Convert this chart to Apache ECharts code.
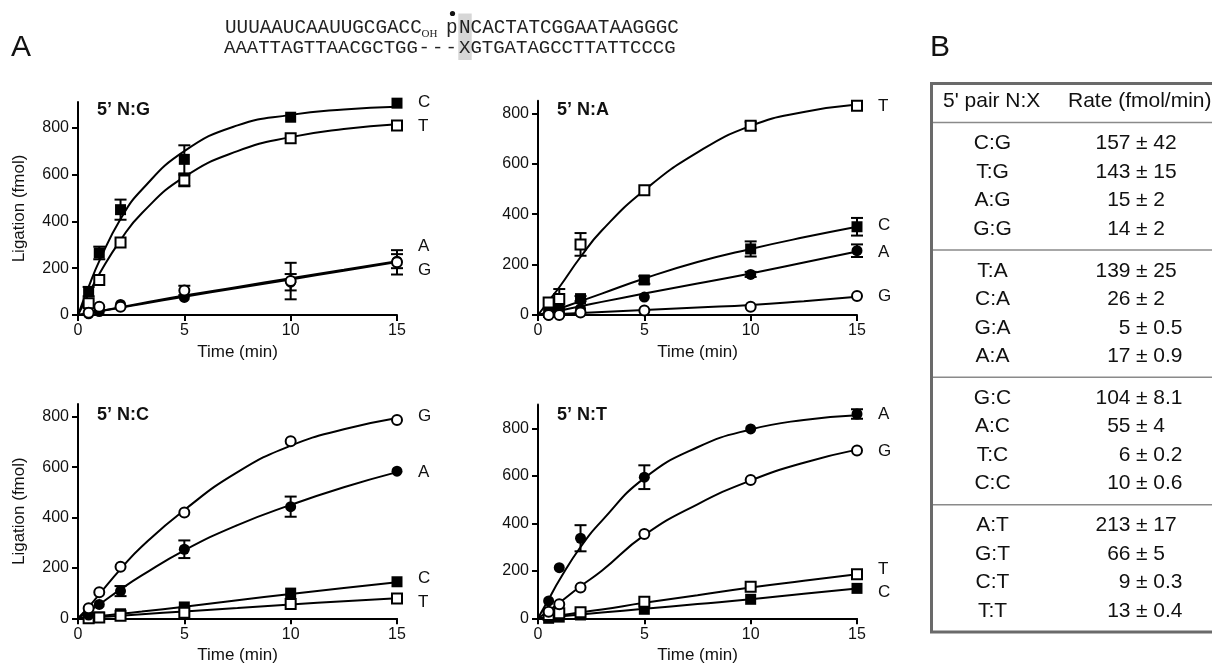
<!DOCTYPE html>
<html><head><meta charset="utf-8">
<script src="https://cdn.jsdelivr.net/npm/echarts@6/dist/echarts.min.js"></script>
<style>html,body{margin:0;padding:0;background:#fff}#c{width:1212px;height:667px}</style>
</head><body><div id="c"></div>
<script>
// ---------- DATA ----------
const times = [0.5, 1, 2, 5, 10, 15];
const fitTimes = [0, 0.5, 1, 2, 3, 5, 7.5, 10, 12.5, 15];
const xTicks = [0, 5, 10, 15];
const yTicks = [0, 200, 400, 600, 800];
const panelTitles = ['5\u2019 N:G', '5\u2019 N:A', '5\u2019 N:C', '5\u2019 N:T'];

// Panel 5' N:G
const ngC = [100, 265, 450, 665, 845, 905];  const ngCerr = [20, 27, 43, 60, 0, 0];
const ngT = [50, 150, 310, 575, 755, 810];   const ngTerr = [0, 0, 0, 25, 0, 0];
const ngA = [5, 15, 45, 75, 140, 230];       const ngAerr = [0, 0, 0, 0, 35, 30];
const ngG = [10, 35, 35, 105, 145, 225];     const ngGerr = [0, 0, 0, 20, 78, 52];
const ngCfit = [0, 120, 230, 410, 535, 700, 810, 855, 878, 890];
const ngTfit = [0, 90, 175, 320, 435, 590, 700, 760, 795, 815];
const ngAfit = [0, 8, 16, 31, 47, 78, 115, 152, 189, 226];
const ngGfit = [0, 8, 16, 33, 50, 83, 120, 157, 193, 230];

// Panel 5' N:A
const naT = [50, 63, 280, 495, 751, 830];    const naTerr = [0, 40, 45, 0, 15, 0];
const naC = [10, 25, 65, 139, 262, 350];     const naCerr = [0, 0, 10, 15, 30, 35];
const naA = [0, 10, 25, 71, 161, 255];       const naAerr = [0, 0, 0, 0, 10, 25];
const naG = [0, 0, 10, 18, 33, 75];          const naGerr = [0, 0, 0, 0, 0, 0];
const naTfit = [0, 55, 110, 230, 335, 495, 645, 750, 805, 835];
const naCfit = [0, 12, 25, 55, 85, 145, 210, 262, 308, 350];
const naAfit = [0, 8, 17, 35, 52, 85, 125, 165, 208, 252];
const naGfit = [0, 2, 4, 8, 12, 20, 30, 40, 55, 72];

// Panel 5' N:C
const ncG = [40, 103, 205, 420, 703, 787];   const ncGerr = [0, 0, 0, 0, 0, 0];
const ncA = [13, 55, 108, 274, 443, 584];    const ncAerr = [0, 0, 20, 35, 40, 0];
const ncC = [0, 5, 18, 45, 100, 145];        const ncCerr = [0, 0, 0, 0, 0, 0];
const ncT = [0, 3, 10, 22, 57, 79];          const ncTerr = [0, 0, 0, 0, 0, 0];
const ncGfit = [0, 45, 95, 195, 285, 430, 580, 685, 750, 795];
const ncAfit = [0, 28, 55, 115, 170, 270, 370, 450, 520, 580];
const ncCfit = [0, 4, 9, 18, 27, 46, 72, 96, 120, 143];
const ncTfit = [0, 3, 5, 10, 16, 27, 41, 55, 68, 80];

// Panel 5' N:T
const ntA = [73, 213, 337, 594, 797, 860];   const ntAerr = [0, 0, 55, 50, 0, 20];
const ntG = [28, 59, 130, 355, 582, 706];    const ntGerr = [0, 0, 0, 0, 0, 0];
const ntT = [14, 21, 25, 70, 133, 185];      const ntTerr = [0, 0, 0, 0, 0, 0];
const ntC = [0, 5, 14, 38, 80, 126];         const ntCerr = [0, 0, 0, 0, 0, 0];
const ntAfit = [0, 80, 160, 300, 410, 590, 720, 795, 835, 855];
const ntGfit = [0, 32, 65, 135, 200, 350, 480, 580, 655, 710];
const ntTfit = [0, 6, 12, 25, 37, 65, 97, 130, 158, 185];
const ntCfit = [0, 4, 8, 16, 24, 40, 60, 80, 103, 125];

// Table B
const pairs    = ['C:G','T:G','A:G','G:G','T:A','C:A','G:A','A:A','G:C','A:C','T:C','C:C','A:T','G:T','C:T','T:T'];
const rateVals = ['157','143','15','14','139','26','5','17','104','55','6','10','213','66','9','13'];
const rateErrs = ['42','15','2','2','25','2','0.5','0.9','8.1','4','0.2','0.6','17','5','0.3','0.4'];

// Sequence
const seqTop5 = 'UUUAAUCAAUUGCGACC';
const seqTop3 = 'NCACTATCGGAATAAGGGC';
const seqBot5 = 'AAATTAGTTAACGCTGG';
const seqBot3 = 'XGTGATAGCCTTATTCCCG';

// ---------- BUILD ----------
const FONT = 'Liberation Sans, Arial, sans-serif';
const panels = [
  {series: {C:[ngC,ngCerr,ngCfit], T:[ngT,ngTerr,ngTfit], A:[ngA,ngAerr,ngAfit], G:[ngG,ngGerr,ngGfit]}, max: 910},
  {series: {C:[naC,naCerr,naCfit], T:[naT,naTerr,naTfit], A:[naA,naAerr,naAfit], G:[naG,naGerr,naGfit]}, max: 850},
  {series: {C:[ncC,ncCerr,ncCfit], T:[ncT,ncTerr,ncTfit], A:[ncA,ncAerr,ncAfit], G:[ncG,ncGerr,ncGfit]}, max: 850},
  {series: {C:[ntC,ntCerr,ntCfit], T:[ntT,ntTerr,ntTfit], A:[ntA,ntAerr,ntAfit], G:[ntG,ntGerr,ntGfit]}, max: 900}
];
const gridPos = [
  {left: 78, top: 102, width: 319, height: 213},
  {left: 538, top: 100.7, width: 319, height: 214.3},
  {left: 78, top: 404.1, width: 319, height: 214.2},
  {left: 538, top: 404.5, width: 319, height: 213.8}
];
const markStyle = {
  C: {symbol: 'rect', size: 11, fill: '#000'},
  T: {symbol: 'rect', size: 10, fill: '#fff'},
  A: {symbol: 'circle', size: 11, fill: '#000'},
  G: {symbol: 'circle', size: 10, fill: '#fff'}
};

function renderErr(params, api) {
  const x = api.value(0), lo = api.value(1), hi = api.value(2);
  const p1 = api.coord([x, lo]), p2 = api.coord([x, hi]);
  const w = 6, st = {stroke: '#000', lineWidth: 2};
  return {type: 'group', children: [
    {type: 'line', shape: {x1: p1[0], y1: p1[1], x2: p2[0], y2: p2[1]}, style: st},
    {type: 'line', shape: {x1: p1[0]-w, y1: p1[1], x2: p1[0]+w, y2: p1[1]}, style: st},
    {type: 'line', shape: {x1: p2[0]-w, y1: p2[1], x2: p2[0]+w, y2: p2[1]}, style: st}
  ]};
}

const grids = [], xAxes = [], yAxes = [], series = [];
panels.forEach((p, i) => {
  grids.push(Object.assign({outerBoundsMode: 'none', containLabel: false}, gridPos[i]));
  const axisLine = {show: true, onZero: false, lineStyle: {color: '#000', width: 2}};
  const axisTick = {show: true, length: 6, lineStyle: {color: '#000', width: 2}};
  xAxes.push({
    type: 'value', gridIndex: i, min: 0, max: 15,
    axisLine, axisTick: Object.assign({customValues: xTicks}, axisTick),
    axisLabel: {customValues: xTicks, margin: 8, color: '#111', fontSize: 16, fontFamily: FONT},
    splitLine: {show: false},
    name: 'Time (min)', nameLocation: 'middle', nameGap: 29,
    nameTextStyle: {color: '#111', fontSize: 17, fontFamily: FONT}
  });
  yAxes.push({
    type: 'value', gridIndex: i, min: 0, max: p.max,
    axisLine, axisTick: Object.assign({customValues: yTicks}, axisTick),
    axisLabel: {customValues: yTicks, margin: 9, color: '#111', fontSize: 16, fontFamily: FONT},
    splitLine: {show: false},
    name: (i % 2 === 0) ? 'Ligation (fmol)' : '', nameLocation: 'middle', nameGap: 50,
    nameTextStyle: {color: '#111', fontSize: 17, fontFamily: FONT}
  });
  ['C', 'T', 'A', 'G'].forEach(k => {
    const [vals, errs, fit] = p.series[k];
    series.push({
      type: 'line', xAxisIndex: i, yAxisIndex: i, z: 2,
      data: fitTimes.map((t, j) => [t, fit[j]]),
      smooth: 0.5, showSymbol: false, symbol: 'none',
      lineStyle: {color: '#000', width: 2}, silent: true, animation: false
    });
    const ed = [];
    times.forEach((t, j) => { if (errs[j] > 0) ed.push([t, vals[j] - errs[j], vals[j] + errs[j]]); });
    if (ed.length) series.push({
      type: 'custom', xAxisIndex: i, yAxisIndex: i, z: 3, renderItem: renderErr,
      encode: {x: 0, y: [1, 2]}, data: ed, silent: true, animation: false
    });
  });
  ['C', 'T', 'A', 'G'].forEach(k => {
    const [vals] = p.series[k];
    const m = markStyle[k];
    series.push({
      type: 'scatter', xAxisIndex: i, yAxisIndex: i, z: 4,
      symbol: m.symbol, symbolSize: m.size,
      itemStyle: {color: m.fill, borderColor: '#000', borderWidth: m.fill === '#fff' ? 2 : 0, opacity: 1},
      data: times.map((t, j) => [t, vals[j]]), silent: true, animation: false
    });
  });
});

// ---------- GRAPHICS ----------
const g = [];
function txt(x, y, s, size, opts) {
  g.push(Object.assign({type: 'text', x, y, style: Object.assign({
    text: s, fontSize: size, fontFamily: FONT, fill: '#111',
    textAlign: 'left', textVerticalAlign: 'middle'}, (opts || {}))}));
}
// panel letters
txt(11, 48, 'A', 30);
txt(930, 48, 'B', 30);
// panel titles
const titlePos = [[97, 110], [557, 110], [97, 415], [557, 415]];
panelTitles.forEach((t, i) => txt(titlePos[i][0], titlePos[i][1], t, 18, {fontWeight: 'bold'}));
// curve labels
const curveLabels = [
  [[418, 102.7, 'C'], [418, 126, 'T'], [418, 246.7, 'A'], [418, 270, 'G']],
  [[878, 106, 'T'], [878, 225.7, 'C'], [878, 252.7, 'A'], [878, 296, 'G']],
  [[418, 416.7, 'G'], [418, 472.7, 'A'], [418, 578.3, 'C'], [418, 602.7, 'T']],
  [[878, 414, 'A'], [878, 451, 'G'], [878, 569, 'T'], [878, 592.3, 'C']]
];
curveLabels.forEach(arr => arr.forEach(l => txt(l[0], l[1], l[2], 17)));

// sequence
const MONO = 'Liberation Mono, DejaVu Sans Mono, monospace';
const SEQC = '#222';
g.push({type: 'rect', shape: {x: 458.3, y: 13.5, width: 13.4, height: 46.5}, style: {fill: '#d6d6d6'}, z: 0});
txt(225, 28, seqTop5, 19.3, {fontFamily: MONO, fill: SEQC});
txt(421.5, 34, 'OH', 11, {fontFamily: 'Liberation Serif, serif', fill: SEQC});
txt(446, 28, 'p', 19.3, {fontFamily: MONO, fill: SEQC});
g.push({type: 'circle', shape: {cx: 452.5, cy: 13.5, r: 2.6}, style: {fill: '#111'}});
txt(459, 28, seqTop3, 19.3, {fontFamily: MONO, fill: SEQC});
txt(224, 48, seqBot5, 19, {fontFamily: MONO, fill: SEQC});
[0, 1, 2].forEach(k => txt(418.5 + k * 13.5, 48, '-', 19, {fontFamily: MONO, fill: SEQC}));
txt(459, 48, seqBot3, 19, {fontFamily: MONO, fill: SEQC});

// table (uniform row layout)
const tblTop = 83.5, tblBottom = 632, headSep = 122.5, rowPitch = 28.5;
const groupH = (tblBottom - headSep) / 4;
g.push({type: 'rect', shape: {x: 931.5, y: tblTop, width: 300, height: tblBottom - tblTop}, style: {fill: 'none', stroke: '#6a6a6a', lineWidth: 3}});
[0, 1, 2, 3].forEach(k => {
  const y = headSep + k * groupH;
  g.push({type: 'line', shape: {x1: 933, y1: y, x2: 1212, y2: y}, style: {stroke: '#8a8a8a', lineWidth: 1.5}});
});
txt(943, 101, "5' pair N:X", 21);
txt(1068, 101, 'Rate (fmol/min)', 21);
const padTop = (groupH - 3 * rowPitch) / 2;
pairs.forEach((p, i) => {
  const grp = Math.floor(i / 4), r = i % 4;
  const y = headSep + grp * groupH + padTop + r * rowPitch;
  txt(992.5, y, p, 21, {textAlign: 'center'});
  txt(1130.5, y, rateVals[i], 21, {textAlign: 'right'});
  txt(1136, y, '\u00b1 ' + rateErrs[i], 21);
});

const chart = echarts.init(document.getElementById('c'), null, {renderer: 'canvas'});
chart.setOption({
  backgroundColor: '#fff',
  animation: false,
  grid: grids, xAxis: xAxes, yAxis: yAxes, series,
  graphic: {elements: g}
});
</script></body></html>
